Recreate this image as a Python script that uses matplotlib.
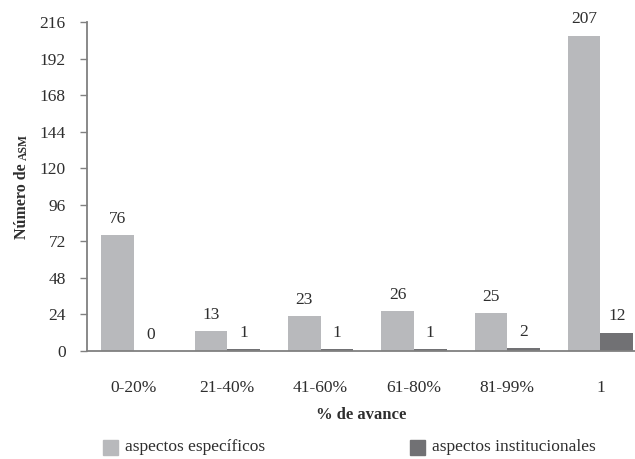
import matplotlib
matplotlib.use("Agg")
import matplotlib.pyplot as plt
from matplotlib.patches import Rectangle
import numpy as np

plt.rcParams['font.family'] = ['Liberation Serif', 'DejaVu Serif']

categories = ["0-20%", "21-40%", "41-60%", "61-80%", "81-99%", "1"]
especificos = [76, 13, 23, 26, 25, 207]
institucionales = [0, 1, 1, 1, 2, 12]
series_names = ["aspectos específicos", "aspectos institucionales"]
yticks = [0, 24, 48, 72, 96, 120, 144, 168, 192, 216]

c_light = "#b8b9bc"
c_dark = "#717174"
txt = "#2e2e2e"
axis_c = "#808080"

W, H = 635, 459
fig = plt.figure(figsize=(W / 100, H / 100), dpi=100)
ax = fig.add_axes([86.7 / W, (H - 351) / H, (W - 86.7) / W, (351 - 22) / H])

x = np.arange(len(categories))
bw = 0.35
b1 = ax.bar(x - bw / 2, especificos, bw, color=c_light)
b2 = ax.bar(x + bw / 2, institucionales, bw, color=c_dark)

for bars, vals in ((b1, especificos), (b2, institucionales)):
    for r, v in zip(bars, vals):
        ax.annotate(str(v), (r.get_x() + r.get_width() / 2, v),
                    xytext=(0, 6), textcoords="offset points",
                    ha="center", va="bottom", fontsize=12.5, color=txt)

ax.set_xlim(-0.507, 5.37)
ax.set_ylim(0, 216)
ax.set_yticks(yticks)
ax.set_xticks(x)
ax.set_xticklabels(categories)
for s in ("top", "right"):
    ax.spines[s].set_visible(False)
for s in ("left", "bottom"):
    ax.spines[s].set_color(axis_c)
    ax.spines[s].set_linewidth(1.3)
ax.tick_params(axis="y", direction="out", length=5, width=1.0, color=axis_c,
               labelsize=12.5, labelcolor=txt, pad=10)
ax.tick_params(axis="x", length=0, labelsize=12.5, labelcolor=txt, pad=21)
ax.set_xlabel("% de avance", fontsize=12, fontweight="bold", color=txt, labelpad=8)

# y label: "Número de" + small-caps "ASM"
fig.canvas.draw()
r = fig.canvas.get_renderer()
xl = 22
t1 = fig.text(xl / W, 0.5, "Número de ", rotation=90, ha="center", va="bottom",
              fontsize=11.5, fontweight="bold", color=txt)
t2 = fig.text(xl / W, 0.5, "ASM", rotation=90, ha="center", va="bottom",
              fontsize=8.5, fontweight="bold", color=txt)
h1 = t1.get_window_extent(r).height
h2 = t2.get_window_extent(r).height
total = h1 + h2
yc = H - 186.5
y0 = yc - total / 2
t1.set_position((xl / W, y0 / H))
t2.set_position(((xl + 1.5) / W, (y0 + h1) / H))

# legend
yl = H - 447
for sx, tx, col, name in ((103, 125, c_light, series_names[0]),
                          (410, 432, c_dark, series_names[1])):
    fig.add_artist(Rectangle((sx / W, (yl - 7.5) / H), 15 / W, 15 / H,
                             transform=fig.transFigure, color=col))
    fig.text(tx / W, yl / H, name, ha="left", va="center", fontsize=12.5, color=txt)

fig.savefig("out.png", dpi=100)
